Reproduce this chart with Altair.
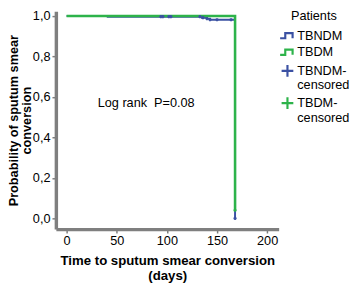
import altair as alt
import pandas as pd

# Kaplan-Meier step curves (time in days, survival probability)
tbndm_t = [0, 41, 135, 140, 143, 168]
tbndm_s = [1.0, 0.997, 0.992, 0.987, 0.982, 0.0]
tbdm_t = [0, 168]
tbdm_s = [1.0, 0.04]

# censored marks
tbndm_cens_t = [94, 96, 102, 104, 133, 136, 140, 143, 150, 164, 168]
tbndm_cens_s = [0.997, 0.997, 0.997, 0.997, 0.997, 0.992, 0.987, 0.982, 0.982, 0.982, 0.0]
tbdm_cens_t = [168]
tbdm_cens_s = [0.04]

groups = ["TBNDM", "TBDM", "TBNDM-censored", "TBDM-censored"]
colors = ["#3b51a3", "#2db34a", "#3b51a3", "#2db34a"]
x_ticks = [0, 50, 100, 150, 200]
y_ticks = [0.0, 0.2, 0.4, 0.6, 0.8, 1.0]

step_path = "M-1,0.35H-0.3V-0.35H0.7V0.35"
plus_path = "M-0.8,0H0.8M0,-0.8V0.8"

lines = pd.DataFrame(
    {"t": tbndm_t + tbdm_t,
     "s": tbndm_s + tbdm_s,
     "g": ["TBNDM"] * len(tbndm_t) + ["TBDM"] * len(tbdm_t),
     "w": [2.0] * len(tbndm_t) + [2.6] * len(tbdm_t)}
)
cens = pd.DataFrame(
    {"t": tbndm_cens_t + tbdm_cens_t,
     "s": tbndm_cens_s + tbdm_cens_s,
     "g": ["TBNDM-censored"] * len(tbndm_cens_t) + ["TBDM-censored"] * len(tbdm_cens_t)}
)
note = pd.DataFrame({"t": [31], "s": [0.57], "label": ["Log rank\u00a0\u00a0P=0.08"]})

xscale = alt.Scale(domain=[-10.7, 211.5], nice=False, zero=False)
yscale = alt.Scale(domain=[-0.053, 1.024], nice=False, zero=False)

xaxis = alt.Axis(values=x_ticks, title=["Time to sputum smear conversion", "(days)"],
                 grid=False, titlePadding=6)
yaxis = alt.Axis(values=y_ticks, title=["Probability of sputum smear", "conversion"],
                 grid=False, labelExpr="replace(format(datum.value, '.1f'), '.', ',')",
                 titleX=-39, titleBaseline="alphabetic", titleFontSize=13, titleLineHeight=13.5)

line_layer = alt.Chart(lines).mark_line(interpolate="step-after").encode(
    x=alt.X("t:Q", scale=xscale, axis=xaxis),
    y=alt.Y("s:Q", scale=yscale, axis=yaxis),
    stroke=alt.Stroke("g:N", scale=alt.Scale(domain=groups[:2], range=colors[:2]), legend=None),
    strokeWidth=alt.StrokeWidth("w:Q", scale=None),
    order=alt.Order("t:Q"),
)

point_layer = alt.Chart(cens).mark_point(filled=False, size=16, strokeWidth=1.8, opacity=1).encode(
    x=alt.X("t:Q", scale=xscale),
    y=alt.Y("s:Q", scale=yscale),
    color=alt.Color("g:N", scale=alt.Scale(domain=groups, range=colors),
                    legend=alt.Legend(
                        title="Patients", orient="none", legendX=228, legendY=-1,
                        titleAnchor="middle", titleFontWeight="normal", titleFontSize=13,
                        titleFont="Liberation Sans", titleColor="#000", titlePadding=4,
                        labelFont="Liberation Sans", labelFontSize=13, labelColor="#000",
                        symbolSize=225, symbolStrokeWidth=2.2, symbolOpacity=1,
                        labelOffset=1, rowPadding=0,
                        labelExpr="datum.label == 'TBNDM-censored' ? ['TBNDM-', 'censored'] : datum.label == 'TBDM-censored' ? ['TBDM-', 'censored'] : datum.label",
                    )),
    shape=alt.Shape("g:N", scale=alt.Scale(domain=groups,
                                           range=[step_path, step_path, plus_path, plus_path])),
)

text_layer = alt.Chart(note).mark_text(align="left", baseline="middle", fontSize=13,
                                        font="Liberation Sans", color="#000").encode(
    x=alt.X("t:Q", scale=xscale),
    y=alt.Y("s:Q", scale=yscale),
    text="label:N",
)

chart = alt.layer(line_layer, point_layer, text_layer).properties(
    width=228, height=223,
    autosize=alt.AutoSizeParams(type="none"),
    padding={"left": 49, "top": 0, "right": 73, "bottom": 58},
).configure_view(stroke=None).configure_axis(
    domainColor="#7f7f7f", domainWidth=3.5, tickColor="#7f7f7f", tickWidth=1.5, tickSize=4,
    labelFont="Liberation Sans", labelFontSize=13, labelColor="#000", labelPadding=2,
    titleFont="Liberation Sans", titleFontSize=13.5, titleFontWeight="bold", titleColor="#000",
)

chart.save("out.html", embed_options={"renderer": "svg", "actions": False})
